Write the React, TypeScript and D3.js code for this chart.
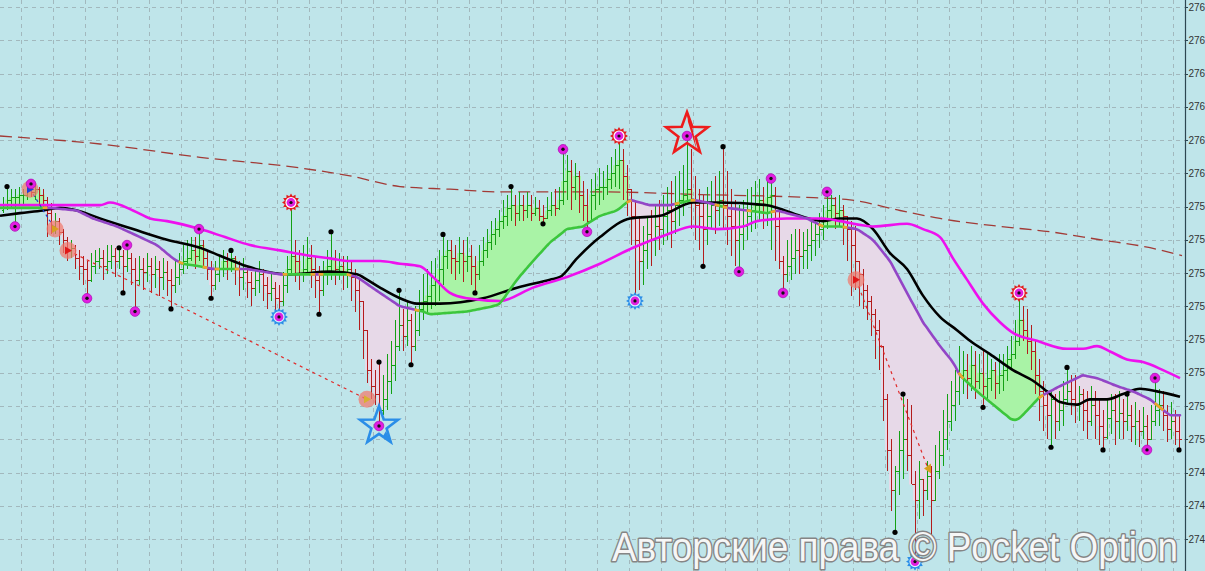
import React from 'react';
import * as d3 from 'd3';

const W = 1205;
const H = 571;

// ---------- bar data (prices) ----------
const firstOpen = 275.86;
const closes = [
  275.88, 275.90, 275.91, 275.91, 275.92, 275.92, 275.94, 275.93, 275.94, 275.92,
  275.90, 275.85, 275.80, 275.82, 275.78, 275.75, 275.71, 275.72, 275.68, 275.65,
  275.64, 275.60, 275.65, 275.67, 275.68, 275.65, 275.67, 275.69, 275.67, 275.69,
  275.65, 275.68, 275.64, 275.60, 275.64, 275.63, 275.65, 275.62, 275.64, 275.61,
  275.63, 275.60, 275.58, 275.61, 275.64, 275.67, 275.68, 275.71, 275.69, 275.73,
  275.68, 275.64, 275.58, 275.62, 275.64, 275.67, 275.64, 275.68, 275.64, 275.61,
  275.63, 275.59, 275.57, 275.60, 275.62, 275.58, 275.55, 275.57, 275.53, 275.52,
  275.58, 275.64, 275.69, 275.67, 275.62, 275.64, 275.68, 275.64, 275.60, 275.56,
  275.62, 275.65, 275.68, 275.64, 275.65, 275.63, 275.64, 275.61, 275.56, 275.52,
  275.41, 275.26, 275.20, 275.17, 275.11, 275.15, 275.22, 275.28, 275.35, 275.43,
  275.39, 275.45, 275.35, 275.41, 275.49, 275.52, 275.54, 275.58, 275.60, 275.64,
  275.69, 275.71, 275.68, 275.67, 275.70, 275.67, 275.69, 275.65, 275.62, 275.67,
  275.71, 275.74, 275.77, 275.79, 275.82, 275.84, 275.87, 275.88, 275.85, 275.88,
  275.86, 275.88, 275.85, 275.87, 275.84, 275.83, 275.86, 275.88, 275.87, 275.90,
  275.97, 276.01, 275.95, 275.99, 275.92, 275.88, 275.82, 275.92, 275.94, 275.95,
  275.95, 275.98, 276.00, 276.03, 276.05, 275.99, 275.94, 275.84, 275.75, 275.67,
  275.71, 275.77, 275.75, 275.80, 275.79, 275.84, 275.86, 275.82, 275.88, 275.90,
  275.92, 275.94, 275.90, 275.88, 275.84, 275.79, 275.84, 275.88, 275.86, 275.90,
  275.88, 275.84, 275.80, 275.75, 275.77, 275.80, 275.84, 275.86, 275.88, 275.90,
  275.88, 275.91, 275.92, 275.80, 275.67, 275.62, 275.65, 275.68, 275.71, 275.69,
  275.71, 275.73, 275.75, 275.77, 275.79, 275.82, 275.86, 275.88, 275.85, 275.86,
  275.84, 275.79, 275.73, 275.67, 275.62, 275.56, 275.52, 275.47, 275.41, 275.35,
  275.15, 274.96, 274.81, 274.88, 274.96, 275.00, 274.94, 274.83, 274.77, 274.85,
  274.81, 274.86, 274.77, 274.88, 274.94, 275.00, 275.07, 275.13, 275.18, 275.24,
  275.26, 275.23, 275.28, 275.22, 275.25, 275.20, 275.23, 275.26, 275.21, 275.24,
  275.26, 275.30, 275.32, 275.37, 275.45, 275.41, 275.37, 275.33, 275.24, 275.18,
  275.13, 275.09, 275.15, 275.07, 275.11, 275.15, 275.18, 275.15, 275.13, 275.17,
  275.11, 275.07, 275.13, 275.09, 275.05, 275.01, 275.08, 275.11, 275.07, 275.10,
  275.07, 275.09, 275.05, 275.07, 275.03, 275.05, 275.00, 275.07, 275.11, 275.13,
  275.09, 275.04, 275.07, 275.03, 275.00,
];
const highs = [
  275.91, 275.95, 275.94, 275.94, 275.95, 275.94, 275.97, 275.96, 275.96, 275.95,
  275.94, 275.91, 275.89, 275.85, 275.83, 275.79, 275.76, 275.75, 275.73, 275.71,
  275.69, 275.67, 275.70, 275.71, 275.72, 275.71, 275.73, 275.73, 275.72, 275.72,
  275.71, 275.73, 275.70, 275.68, 275.69, 275.68, 275.70, 275.68, 275.69, 275.67,
  275.68, 275.67, 275.64, 275.67, 275.70, 275.73, 275.75, 275.76, 275.76, 275.79,
  275.75, 275.71, 275.67, 275.67, 275.69, 275.71, 275.70, 275.71, 275.69, 275.67,
  275.68, 275.65, 275.63, 275.64, 275.67, 275.64, 275.61, 275.62, 275.59, 275.58,
  275.63, 275.69, 275.89, 275.75, 275.71, 275.73, 275.76, 275.73, 275.69, 275.65,
  275.67, 275.71, 275.78, 275.71, 275.70, 275.69, 275.69, 275.67, 275.64, 275.60,
  275.52, 275.41, 275.30, 275.26, 275.29, 275.24, 275.32, 275.37, 275.45, 275.56,
  275.49, 275.52, 275.47, 275.50, 275.56, 275.62, 275.64, 275.67, 275.68, 275.71,
  275.77, 275.75, 275.75, 275.73, 275.76, 275.75, 275.76, 275.73, 275.69, 275.73,
  275.76, 275.79, 275.82, 275.83, 275.86, 275.90, 275.92, 275.95, 275.92, 275.93,
  275.92, 275.93, 275.92, 275.91, 275.90, 275.88, 275.91, 275.93, 275.94, 275.95,
  276.09, 276.07, 276.05, 276.04, 276.01, 275.97, 275.94, 275.98, 276.00, 276.02,
  276.01, 276.03, 276.06, 276.09, 276.14, 276.09, 276.03, 275.94, 275.90, 275.84,
  275.80, 275.84, 275.86, 275.88, 275.90, 275.92, 275.95, 275.97, 275.99, 276.01,
  276.03, 276.14, 276.09, 275.99, 275.94, 275.92, 275.95, 275.97, 275.99, 276.01,
  276.10, 276.01, 275.94, 275.90, 275.88, 275.90, 275.94, 275.95, 275.97, 275.98,
  275.95, 275.97, 275.98, 275.95, 275.86, 275.69, 275.75, 275.77, 275.79, 275.79,
  275.78, 275.79, 275.82, 275.83, 275.85, 275.88, 275.93, 275.92, 275.91, 275.92,
  275.88, 275.84, 275.82, 275.80, 275.65, 275.64, 275.58, 275.54, 275.49, 275.45,
  275.30, 275.17, 275.00, 274.90, 275.03, 275.17, 275.15, 275.13, 274.88, 274.92,
  274.85, 274.92, 274.90, 274.98, 275.03, 275.11, 275.17, 275.22, 275.26, 275.35,
  275.33, 275.32, 275.35, 275.33, 275.32, 275.33, 275.32, 275.30, 275.29, 275.32,
  275.32, 275.35, 275.39, 275.45, 275.55, 275.50, 275.49, 275.43, 275.37, 275.30,
  275.22, 275.18, 275.18, 275.17, 275.18, 275.22, 275.27, 275.24, 275.24, 275.20,
  275.19, 275.18, 275.20, 275.18, 275.15, 275.11, 275.15, 275.17, 275.17, 275.18,
  275.15, 275.17, 275.13, 275.14, 275.11, 275.12, 275.09, 275.13, 275.23, 275.19,
  275.18, 275.13, 275.14, 275.11, 275.09,
];
const lows = [
  275.85, 275.86, 275.87, 275.80, 275.88, 275.88, 275.90, 275.91, 275.90, 275.88,
  275.86, 275.76, 275.77, 275.77, 275.73, 275.70, 275.67, 275.68, 275.64, 275.60,
  275.58, 275.53, 275.59, 275.62, 275.64, 275.60, 275.62, 275.64, 275.61, 275.64,
  275.55, 275.63, 275.58, 275.48, 275.58, 275.56, 275.59, 275.55, 275.57, 275.54,
  275.56, 275.54, 275.49, 275.55, 275.58, 275.62, 275.64, 275.67, 275.64, 275.67,
  275.65, 275.60, 275.53, 275.56, 275.59, 275.61, 275.60, 275.63, 275.58, 275.54,
  275.56, 275.53, 275.50, 275.54, 275.55, 275.52, 275.49, 275.52, 275.48, 275.46,
  275.50, 275.55, 275.62, 275.59, 275.56, 275.59, 275.62, 275.57, 275.53, 275.47,
  275.54, 275.58, 275.60, 275.58, 275.60, 275.56, 275.57, 275.52, 275.48, 275.41,
  275.30, 275.21, 275.15, 275.13, 275.05, 275.09, 275.11, 275.17, 275.22, 275.33,
  275.33, 275.35, 275.28, 275.33, 275.39, 275.45, 275.47, 275.49, 275.50, 275.52,
  275.58, 275.64, 275.62, 275.60, 275.62, 275.59, 275.63, 275.58, 275.55, 275.60,
  275.65, 275.68, 275.71, 275.73, 275.76, 275.79, 275.80, 275.82, 275.80, 275.82,
  275.82, 275.83, 275.82, 275.84, 275.82, 275.81, 275.83, 275.84, 275.84, 275.86,
  275.88, 275.90, 275.86, 275.90, 275.85, 275.82, 275.78, 275.84, 275.86, 275.88,
  275.90, 275.92, 275.94, 275.95, 275.94, 275.90, 275.84, 275.73, 275.52, 275.56,
  275.58, 275.64, 275.65, 275.69, 275.71, 275.73, 275.75, 275.72, 275.77, 275.80,
  275.84, 275.88, 275.79, 275.75, 275.71, 275.65, 275.73, 275.79, 275.77, 275.80,
  275.79, 275.73, 275.69, 275.65, 275.63, 275.71, 275.75, 275.78, 275.79, 275.82,
  275.79, 275.80, 275.71, 275.67, 275.64, 275.55, 275.59, 275.60, 275.62, 275.62,
  275.64, 275.64, 275.67, 275.69, 275.72, 275.75, 275.79, 275.82, 275.79, 275.80,
  275.73, 275.67, 275.54, 275.56, 275.50, 275.49, 275.45, 275.39, 275.30, 275.26,
  275.07, 274.88, 274.73, 274.65, 274.79, 274.85, 274.88, 274.85, 274.54, 274.70,
  274.71, 274.77, 274.64, 274.77, 274.85, 274.90, 274.96, 275.03, 275.07, 275.13,
  275.17, 275.15, 275.18, 275.15, 275.19, 275.12, 275.15, 275.18, 275.15, 275.17,
  275.18, 275.22, 275.26, 275.30, 275.35, 275.37, 275.32, 275.26, 275.17, 275.07,
  275.03, 275.00, 274.97, 275.00, 275.03, 275.05, 275.13, 275.09, 275.06, 275.07,
  275.03, 275.00, 275.05, 275.00, 274.98, 274.96, 275.00, 275.02, 274.98, 275.00,
  275.00, 275.03, 274.99, 274.98, 274.97, 275.00, 274.96, 275.03, 275.05, 275.05,
  275.03, 274.99, 275.00, 274.98, 274.96,
];

// ---------- indicator lines: [bar index, price] ----------
const slowMA: [number, number][] = [
  [-0.75, 275.88], [11.75, 275.88], [24.25, 275.88], [26.75, 275.89], [32.5, 275.86],
  [36.75, 275.83], [41, 275.82], [49.25, 275.79], [55.5, 275.76], [61.75, 275.73],
  [69.25, 275.71], [76.75, 275.69], [81.75, 275.68], [86.75, 275.67], [94.25, 275.67],
  [99.25, 275.66], [104.25, 275.65], [107.5, 275.61], [111.75, 275.55], [116, 275.53],
  [124.25, 275.52], [132.5, 275.57], [141, 275.61], [149.25, 275.66], [157.5, 275.72],
  [166, 275.77], [172.5, 275.80], [178.5, 275.79], [185, 275.80], [188.5, 275.82],
  [196, 275.83], [205, 275.83], [209.25, 275.82], [217.5, 275.80], [226, 275.81],
  [230, 275.79], [234.25, 275.76], [237.5, 275.68], [241, 275.60], [245, 275.51],
  [249.25, 275.44], [252.5, 275.40], [258.5, 275.37], [266, 275.34], [270, 275.34],
  [273.5, 275.35], [276.75, 275.33], [281, 275.30], [285, 275.29], [290, 275.26],
  [294.25, 275.23],
];
const midMA: [number, number][] = [
  [-0.75, 275.84], [4.25, 275.85], [10, 275.86], [14.25, 275.87], [18.5, 275.86],
  [24.25, 275.83], [32.5, 275.79], [41, 275.75], [49.25, 275.72], [54.25, 275.69],
  [61, 275.65], [66, 275.63], [71.75, 275.62], [81.75, 275.63], [88.5, 275.62],
  [91, 275.60], [94.25, 275.57], [99.25, 275.53], [103.5, 275.51], [109.25, 275.51],
  [120, 275.53], [128.5, 275.57], [136.75, 275.60], [139.25, 275.61], [143.5, 275.68],
  [149.25, 275.76], [156.75, 275.83], [164.25, 275.84], [172.5, 275.89], [178.5, 275.89],
  [191, 275.88], [193.5, 275.87], [199.25, 275.84], [205, 275.82], [209.25, 275.83],
  [213.5, 275.83], [217.5, 275.79], [221.75, 275.70], [226, 275.64], [230, 275.54],
  [234.25, 275.46], [238.5, 275.41], [241.75, 275.37], [246.75, 275.32], [252.5, 275.26],
  [257.5, 275.22], [261, 275.18], [264.25, 275.14], [268.5, 275.13], [271.75, 275.15],
  [276, 275.15], [280, 275.17], [284.25, 275.19], [288.5, 275.18], [294.25, 275.16],
];
const fastMA: [number, number][] = [
  [-0.75, 275.87], [11.75, 275.87], [18.5, 275.86], [22.5, 275.83], [28.5, 275.80],
  [34.25, 275.76], [38.5, 275.73], [42.5, 275.68], [44.75, 275.66], [49.25, 275.65],
  [52.5, 275.64], [61, 275.64], [69.25, 275.62], [73.5, 275.62], [77.5, 275.62],
  [86, 275.62], [88.5, 275.61], [94.25, 275.55], [99.25, 275.50], [105, 275.48],
  [106.75, 275.47], [116, 275.48], [122.5, 275.50], [124.25, 275.51], [128.5, 275.60],
  [132.5, 275.67], [136.75, 275.74], [141, 275.79], [145, 275.80], [149.25, 275.84],
  [153.5, 275.86], [156.75, 275.90], [159.25, 275.89], [161.75, 275.88], [166.75, 275.88],
  [172.5, 275.90], [176, 275.89], [181, 275.87], [186, 275.86], [191, 275.85],
  [193.5, 275.86], [201, 275.83], [205, 275.80], [209.25, 275.80], [213.5, 275.79],
  [217.5, 275.75], [221.75, 275.67], [226, 275.55], [230, 275.44], [234.25, 275.35],
  [237.5, 275.29], [239.25, 275.24], [243.5, 275.18], [246.75, 275.14], [250, 275.10],
  [252.5, 275.07], [254.25, 275.08], [256.75, 275.12], [259.25, 275.16], [264.25, 275.20],
  [268.5, 275.23], [270, 275.24], [273.5, 275.23], [278.5, 275.20], [282.5, 275.18],
  [286.75, 275.15], [290, 275.11], [291.75, 275.09], [294.25, 275.09],
];
const longMA: [number, number][] = [
  [-0.75, 276.14], [24.25, 276.11], [49.25, 276.06], [74.25, 276.02], [86.75, 275.99],
  [99.25, 275.95], [111.75, 275.94], [124.25, 275.93], [149.25, 275.93], [174.25, 275.92],
  [199.25, 275.91], [211.75, 275.90], [224.25, 275.86], [234.25, 275.83], [249.25, 275.80],
  [261.75, 275.78], [274.25, 275.75], [286.75, 275.72], [294.75, 275.69],
];

// ---------- markers: [bar index, price] ----------
const blackDots: [number, number][] = [
  [1, 275.95], [29, 275.72], [30, 275.55], [42, 275.49], [52, 275.53], [57, 275.71],
  [79, 275.47], [82, 275.78], [94, 275.29], [99, 275.56], [102, 275.28], [110, 275.77],
  [118, 275.55], [127, 275.95], [135, 275.81], [175, 275.65], [180, 276.10], [223, 274.65],
  [225, 275.17], [245, 275.12], [262, 274.97], [266, 275.27], [275, 274.96], [281, 275.17],
  [294, 274.96],
];
const magentaDots: [number, number][] = [
  [3, 275.80], [7, 275.96], [21, 275.53], [31, 275.73], [33, 275.48], [49, 275.79],
  [140, 276.09], [146, 275.78], [184, 275.63], [192, 275.98], [195, 275.55], [206, 275.93],
  [286, 274.96], [288, 275.23],
];
const redSuns: [number, number][] = [[72, 275.89], [154, 276.14], [254, 275.55]];
const blueSuns: [number, number][] = [[69, 275.46], [158, 275.52], [228, 274.54]];
const redStars: [number, number][] = [[171, 276.14]];
const blueStars: [number, number][] = [[94, 275.05]];
const signalCircles: [number, number][] = [
  [6.75, 275.94], [13, 275.79], [16.25, 275.71], [91, 275.15], [213.25, 275.60],
];
const signalEnd: [number, number] = [231.25, 274.89];

const priceTicks = [
  274.625, 274.75, 274.875, 275.0, 275.125, 275.25, 275.375, 275.5, 275.625,
  275.75, 275.875, 276.0, 276.125, 276.25, 276.375, 276.5, 276.625,
];
const watermark = 'Авторские права © Pocket Option';

// ---------- helpers ----------
function starPath(cx: number, cy: number, R: number, r: number) {
  const pts: string[] = [];
  for (let k = 0; k < 10; k++) {
    const a = -Math.PI / 2 + (k * Math.PI) / 5;
    const rad = k % 2 === 0 ? R : r;
    pts.push(`${cx + rad * Math.cos(a)},${cy + rad * Math.sin(a)}`);
  }
  return 'M' + pts.join('L') + 'Z';
}
function sunPath(cx: number, cy: number, R: number, r: number, n = 12) {
  const pts: string[] = [];
  for (let k = 0; k < n * 2; k++) {
    const a = (k * Math.PI) / n;
    const rad = k % 2 === 0 ? R : r;
    pts.push(`${cx + rad * Math.cos(a)},${cy + rad * Math.sin(a)}`);
  }
  return 'M' + pts.join('L') + 'Z';
}

export default function App() {
  const n = closes.length;
  const x = d3.scaleLinear().domain([0, n - 1]).range([3, 1179]);
  const y = d3.scaleLinear().domain([274.625, 276.625]).range([539, 7]);
  const opens = closes.map((c, i) => (i === 0 ? firstOpen : closes[i - 1]));
  const fastAt = d3
    .scaleLinear()
    .domain(fastMA.map((d) => d[0]))
    .range(fastMA.map((d) => d[1]));

  const up = closes.map((c, i) => c >= fastAt(i));
  const runs: { s: number; e: number; up: boolean }[] = [];
  let s = 0;
  for (let i = 1; i <= n; i++) {
    if (i === n || up[i] !== up[s]) {
      runs.push({ s, e: i - 1, up: up[s] });
      s = i;
    }
  }

  const area = d3
    .area<[number, number, number]>()
    .x((d) => x(d[0]))
    .y0((d) => y(d[1]))
    .y1((d) => y(d[2]));
  const lineP = d3
    .line<[number, number]>()
    .x((d) => x(d[0]))
    .y((d) => y(d[1]))
    .curve(d3.curveMonotoneX);

  const fills = runs.map((r, k) => {
    const pts: [number, number, number][] = [];
    for (let i = r.s; i <= r.e; i++) {
      const body = r.up ? Math.max(opens[i], closes[i]) : Math.min(opens[i], closes[i]);
      const a0 = i === 0 ? -0.75 : i - 0.5;
      pts.push([a0, fastAt(a0), body]);
      pts.push([i + 0.5, fastAt(i + 0.5), body]);
    }
    return (
      <path key={'f' + k} d={area(pts) || ''} fill={r.up ? '#a9f3a6' : '#e7d9e8'} stroke="none" />
    );
  });

  const fastSegs = runs.map((r, k) => {
    const pts: [number, number][] = [];
    const a0 = r.s === 0 ? -0.75 : r.s - 0.5;
    const a1 = r.e === n - 1 ? 294.25 : r.e + 0.5;
    pts.push([a0, fastAt(a0)]);
    for (let i = r.s; i <= r.e; i++) pts.push([i, fastAt(i)]);
    pts.push([a1, fastAt(a1)]);
    return (
      <path
        key={'l' + k}
        d={lineP(pts) || ''}
        fill="none"
        stroke={r.up ? '#3cc63c' : '#9346c6'}
        strokeWidth={2.6}
        strokeLinecap="round"
      />
    );
  });
  const orangeBits = runs.slice(1).map((r, k) => {
    const a = r.s - 0.5;
    const pts: [number, number][] = [
      [a - 0.6, fastAt(a - 0.6)],
      [a + 0.6, fastAt(a + 0.6)],
    ];
    return <path key={'o' + k} d={lineP(pts) || ''} stroke="#eda62c" strokeWidth={2.6} fill="none" />;
  });

  const gridX = d3.range(4.5, n, 8);
  const green = '#14a014';
  const red = '#b31c1c';

  const P = (d: [number, number]) => [x(d[0]), y(d[1])];

  return (
    <div style={{ position: 'fixed', left: 0, top: 0, width: W, height: H, overflow: 'hidden' }}>
      <svg width={W} height={H} style={{ display: 'block' }}>
        <rect x={0} y={0} width={W} height={H} fill="#bfe5ea" />
        {/* grid */}
        <g stroke="#a2b8bd" strokeWidth={1} strokeDasharray="4,4" shapeRendering="crispEdges">
          {priceTicks.map((t) => (
            <line key={'h' + t} x1={0} x2={1185} y1={Math.round(y(t)) + 0.5} y2={Math.round(y(t)) + 0.5} />
          ))}
          {gridX.map((g) => (
            <line key={'v' + g} x1={Math.round(x(g)) + 0.5} x2={Math.round(x(g)) + 0.5} y1={0} y2={H} />
          ))}
        </g>
        {/* fills */}
        <g>{fills}</g>
        {/* long dashed MA */}
        <path d={lineP(longMA) || ''} fill="none" stroke="#a23a36" strokeWidth={1.3} strokeDasharray="12,6" />
        {/* bars */}
        <g strokeWidth={1} shapeRendering="crispEdges">
          {closes.map((c, i) => {
            const o = opens[i];
            const hi = Math.max(highs[i], o, c);
            const lo = Math.min(lows[i], o, c);
            const xi = Math.round(x(i)) + 0.5;
            const col = c >= o ? green : red;
            return (
              <g key={'b' + i} stroke={col}>
                <line x1={xi} x2={xi} y1={y(hi)} y2={y(lo)} />
                <line x1={xi - 2} x2={xi} y1={Math.round(y(o)) + 0.5} y2={Math.round(y(o)) + 0.5} />
                <line x1={xi} x2={xi + 2} y1={Math.round(y(c)) + 0.5} y2={Math.round(y(c)) + 0.5} />
              </g>
            );
          })}
        </g>
        {/* moving averages */}
        <path d={lineP(midMA) || ''} fill="none" stroke="#000000" strokeWidth={2.6} />
        <path d={lineP(slowMA) || ''} fill="none" stroke="#ee10ee" strokeWidth={2.6} />
        <g>{fastSegs}</g>
        <g>{orangeBits}</g>
        {/* signal links */}
        <line
          x1={P(signalCircles[0])[0]} y1={P(signalCircles[0])[1]}
          x2={P(signalCircles[1])[0]} y2={P(signalCircles[1])[1]}
          stroke="#1f3fd0" strokeWidth={1.2} strokeDasharray="3,3"
        />
        <line
          x1={P(signalCircles[2])[0]} y1={P(signalCircles[2])[1]}
          x2={P(signalCircles[3])[0]} y2={P(signalCircles[3])[1]}
          stroke="#e02a2a" strokeWidth={1.2} strokeDasharray="3,4"
        />
        <line
          x1={P(signalCircles[4])[0]} y1={P(signalCircles[4])[1]}
          x2={P(signalEnd)[0]} y2={P(signalEnd)[1]}
          stroke="#e02a2a" strokeWidth={1.2} strokeDasharray="3,4"
        />
        {signalCircles.map((d, k) => {
          const [cx, cy] = P(d);
          const glyph = ['#2040d8', '#d8a020', '#e01818', '#d8b030', '#e01818'][k];
          return (
            <g key={'sc' + k}>
              <circle cx={cx} cy={cy} r={8.5} fill="rgba(242,120,108,0.72)" />
              <path d={`M${cx - 3},${cy - 4}L${cx + 4},${cy}L${cx - 3},${cy + 4}Z`} fill={glyph} />
            </g>
          );
        })}
        <path
          d={`M${P(signalEnd)[0] + 3},${P(signalEnd)[1] - 5}L${P(signalEnd)[0] - 4},${P(signalEnd)[1]}L${P(signalEnd)[0] + 3},${P(signalEnd)[1] + 5}Z`}
          fill="#d8a020"
        />
        {/* stars */}
        {redStars.map((d, k) => {
          const [cx, cy] = P(d);
          return (
            <g key={'rs' + k}>
              <path d={starPath(cx, cy - 2, 22, 9)} fill="none" stroke="#ee1c1c" strokeWidth={2.6} strokeLinejoin="miter" />
              <path d={`M${cx},${cy - 24}L${cx + 5},${cy - 10}L${cx + 10},${cy + 15}L${cx + 1},${cy - 14}Z`} fill="#ee1c1c" />
            </g>
          );
        })}
        {blueStars.map((d, k) => {
          const [cx, cy] = P(d);
          return (
            <g key={'bs' + k}>
              <path d={starPath(cx, cy, 20, 8)} fill="none" stroke="#2b8ee8" strokeWidth={2.6} />
              <path d={`M${cx + 7},${cy + 5}L${cx + 12},${cy + 17}L${cx + 4},${cy + 10}Z`} fill="#2b8ee8" />
            </g>
          );
        })}
        {/* suns */}
        {redSuns.map((d, k) => {
          const [cx, cy] = P(d);
          return (
            <g key={'ru' + k}>
              <path d={sunPath(cx, cy, 9, 6.5)} fill="#e21c1c" />
              <circle cx={cx} cy={cy} r={5.6} fill="#ffffff" />
              <circle cx={cx} cy={cy} r={4.4} fill="#e020e0" />
              <circle cx={cx} cy={cy} r={1.6} fill="#111" />
            </g>
          );
        })}
        {blueSuns.map((d, k) => {
          const [cx, cy] = P(d);
          return (
            <g key={'bu' + k}>
              <path d={sunPath(cx, cy, 9, 6.5)} fill="#2b8ee8" />
              <circle cx={cx} cy={cy} r={5.6} fill="#d8f0ff" />
              <circle cx={cx} cy={cy} r={4.4} fill="#e020e0" />
              <circle cx={cx} cy={cy} r={1.6} fill="#111" />
            </g>
          );
        })}
        {/* magenta dots (also in star centers) */}
        {[...magentaDots, ...redStars, ...blueStars].map((d, k) => {
          const [cx, cy] = P(d);
          return (
            <g key={'md' + k}>
              <circle cx={cx} cy={cy} r={4.8} fill="#e21ee2" stroke="#b010b8" strokeWidth={0.8} />
              <circle cx={cx} cy={cy} r={1.7} fill="#111" />
            </g>
          );
        })}
        {blackDots.map((d, k) => {
          const [cx, cy] = P(d);
          return <circle key={'bd' + k} cx={cx} cy={cy} r={2.6} fill="#000" />;
        })}
        {/* watermark */}
        <text
          x={612}
          y={561}
          fontSize={40}
          fontFamily="'Liberation Sans', Arial, sans-serif"
          fill="#f6f6f6"
          stroke="#858585"
          strokeWidth={3}
          paintOrder="stroke"
          strokeLinejoin="round"
          textLength={566}
          lengthAdjust="spacingAndGlyphs"
        >
          {watermark}
        </text>
        {/* right price axis */}
        <line x1={1185.5} x2={1185.5} y1={0} y2={H} stroke="#2d4651" strokeWidth={1.2} />
        {priceTicks.map((t) => (
          <g key={'t' + t}>
            <line x1={1185} x2={1188} y1={Math.round(y(t)) + 0.5} y2={Math.round(y(t)) + 0.5} stroke="#2d4651" />
            <text
              x={1188.5}
              y={y(t)}
              dy="0.35em"
              fontSize={10}
              fontFamily="'Liberation Sans', Arial, sans-serif"
              fill="#333"
            >
              {d3.format('d')(Math.floor(t))}
            </text>
          </g>
        ))}
      </svg>
    </div>
  );
}
